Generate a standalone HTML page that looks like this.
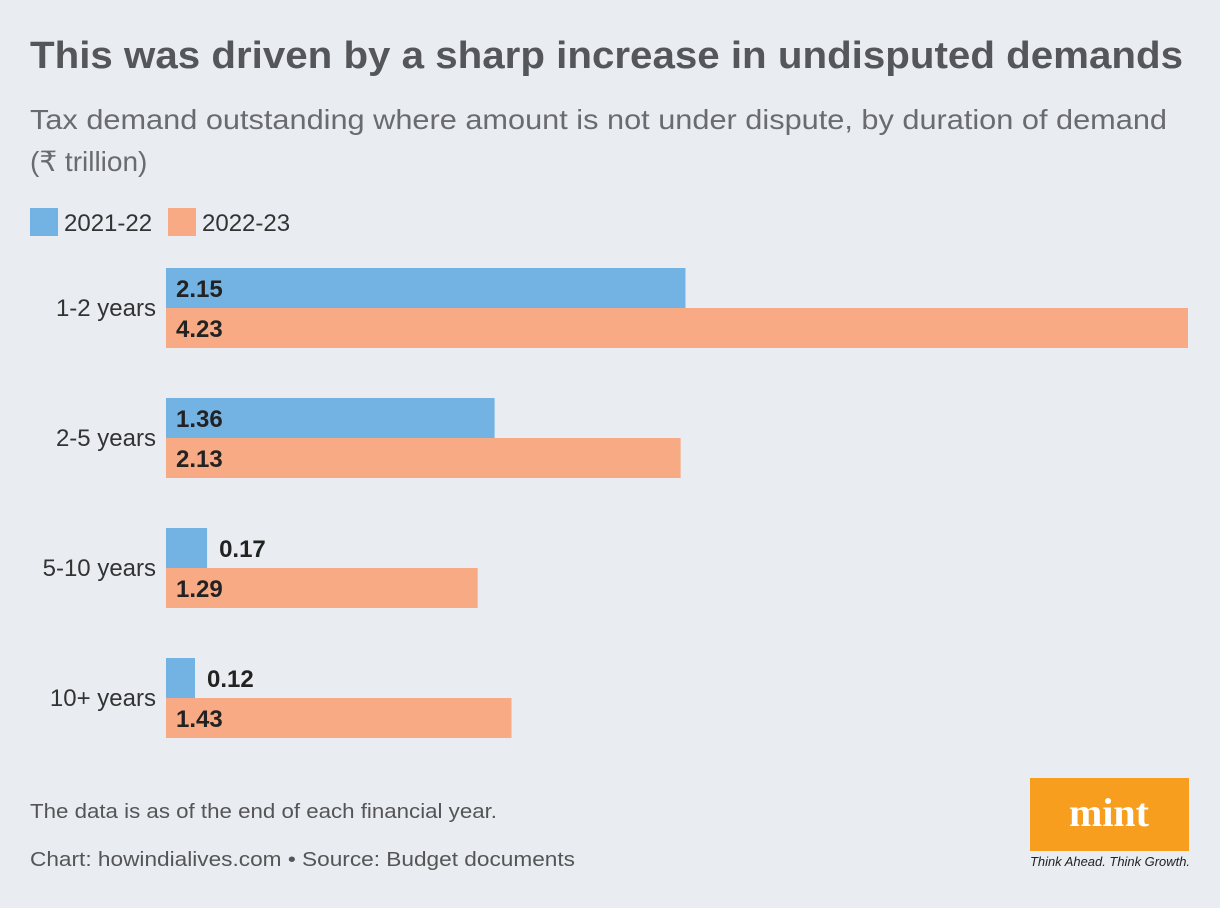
<!DOCTYPE html>
<html><head><meta charset="utf-8"><style>
body{margin:0;background:#e9ecf1;}
svg{display:block;font-family:"Liberation Sans",sans-serif;}
</style></head><body>
<svg width="1220" height="908" viewBox="0 0 1220 908">
<rect width="1220" height="908" fill="#e9ecf1"/>
<text x="30" y="68" font-size="38" font-weight="bold" fill="#55565a" textLength="1153" lengthAdjust="spacingAndGlyphs">This was driven by a sharp increase in undisputed demands</text>
<text x="30" y="129" font-size="28" fill="#6a6b6f" textLength="1137" lengthAdjust="spacingAndGlyphs">Tax demand outstanding where amount is not under dispute, by duration of demand</text>
<text x="30" y="171" font-size="28" fill="#6a6b6f">(₹ trillion)</text>
<g>
<rect x="30" y="208" width="28" height="28" fill="#72b3e3"/>
<text x="64" y="231" font-size="24" fill="#333">2021-22</text>
<rect x="168" y="208" width="28" height="28" fill="#f7aa84"/>
<text x="202" y="231" font-size="24" fill="#333">2022-23</text>
</g>
<g id="bars"></g>
<text x="30" y="818" font-size="20" fill="#555" textLength="467" lengthAdjust="spacingAndGlyphs">The data is as of the end of each financial year.</text>
<text x="30" y="866" font-size="20" fill="#555" textLength="545" lengthAdjust="spacingAndGlyphs">Chart: howindialives.com • Source: Budget documents</text>
<g>
<rect x="1030" y="778" width="159" height="73" fill="#f79e1f"/>
<text x="1109" y="826" font-size="40" font-weight="bold" font-family="Liberation Serif,serif" fill="#fff" text-anchor="middle">mint</text>
<text x="1030" y="866" font-size="13" font-style="italic" fill="#222" textLength="160" lengthAdjust="spacingAndGlyphs">Think Ahead. Think Growth.</text>
</g>
</svg>
<script>
const categories=["1-2 years","2-5 years","5-10 years","10+ years"];
const values2122=[2.15,1.36,0.17,0.12];
const values2223=[4.23,2.13,1.29,1.43];
const x0=166, scale=1022/4.23, top0=268, step=130, bh=40;
const xs=v=>v*scale;
const ns="http://www.w3.org/2000/svg";
const g=document.getElementById('bars');
function mk(tag,attrs){const e=document.createElementNS(ns,tag);for(const k in attrs)e.setAttribute(k,attrs[k]);g.appendChild(e);return e;}
categories.forEach((c,i)=>{
  const y=top0+i*step;
  const lab=mk('text',{x:156,y:y+48,'font-size':24,fill:'#333','text-anchor':'end'});
  lab.textContent=c;
  
  
  [[values2122,'#72b3e3',0,'2021-22'],[values2223,'#f7aa84',1,'2022-23']].forEach(([arr,col,j,s])=>{
    const w=xs(arr[i]);
    const r=mk('rect',{x:x0,y:y+j*bh,width:w,height:bh,fill:col});
    
    
    const inside=w>60;
    const t=mk('text',{x:inside?x0+10:x0+w+12,y:y+j*bh+29,'font-size':24,'font-weight':'bold',fill:'#222'});
    t.textContent=arr[i].toFixed(2);
    
    
  });
});
</script>
</body></html>
